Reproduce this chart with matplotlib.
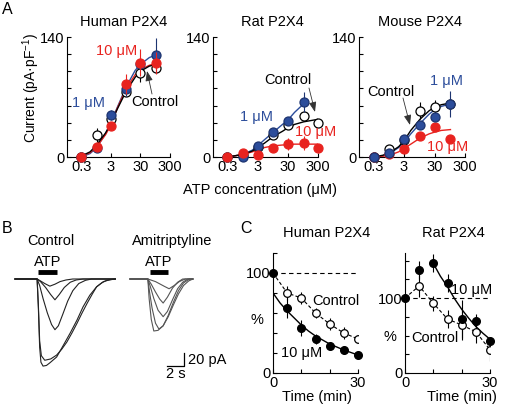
import numpy as np
import matplotlib
matplotlib.use("Agg")
import matplotlib.pyplot as plt

plt.rcParams["font.family"] = ["Liberation Sans", "DejaVu Sans"]
plt.rcParams["mathtext.fontset"] = "custom"
plt.rcParams["mathtext.rm"] = "Liberation Sans"
plt.rcParams["mathtext.it"] = "Liberation Sans:italic"
plt.rcParams["axes.linewidth"] = 0.8

BLUE = "#2c4d9b"
RED = "#e8231f"
FS = 10.5

# ---------------- data: panel A (ATP concentration-response) ----------------
conc = [0.3, 1, 3, 10, 30, 100]
conc_rat = [0.3, 1, 3, 10, 30, 100, 300]

human_ctrl = [0, 26, 44, 76, 98, 104]
human_ctrl_err = [0, 8, 0, 0, 10, 0]
human_1uM = [0, 10, 49, 79, 108, 119]
human_1uM_err = [0, 0, 6, 8, 0, 20]
human_10uM = [0, 12, 36, 85, 110, 110]
human_10uM_err = [0, 0, 0, 12, 16, 13]

rat_ctrl = [0, 2, 12, 26, 37, 48, 40]
rat_ctrl_err = [0, 0, 0, 0, 0, 0, 0]
rat_1uM = [0, 0.5, 13, 29, 42, 64]
rat_1uM_err = [0, 0, 0, 0, 5, 12]
rat_10uM = [0, 4.7, 2.5, 10.5, 15, 16, 10.5]
rat_10uM_err = [0, 0, 0, 0, 7, 8, 0]

mouse_ctrl = [0, 9, 20, 54, 58, 62]
mouse_ctrl_err = [0, 0, 0, 10, 8, 0]
mouse_1uM = [0, 5, 21, 37, 47, 62]
mouse_1uM_err = [0, 0, 0, 0, 0, 15]
mouse_10uM = [0, 3, 9, 24, 35, 21]
mouse_10uM_err = [0, 0, 0, 0, 0, 0]

# fitted curves
fit_x = [0.3, 0.6, 1, 2, 3, 5, 10, 20, 30, 60, 100]
human_fit_ctrl = [1, 6, 14, 28, 39, 56, 77, 93, 100, 106, 108]
human_fit_1uM = [0, 4, 11, 27, 40, 58, 82, 101, 108, 116, 119]
human_fit_10uM = [1, 5, 12, 26, 37, 57, 80, 96, 102, 107, 109]

rat_fit_x = [0.3, 1, 2, 3, 5, 10, 20, 30, 50, 100, 300]
rat_fit_ctrl = [0, 3, 7, 11, 16, 24, 30, 34, 38, 41, 44]
rat_fit_1uM = [0, 3, 8, 13, 20, 29, 38, 43, 52, 62, np.nan]
rat_fit_10uM = [0, 3, 6, 8, 11, 13, 14, 14, 15, 15, 15]

mouse_fit_x = [0.3, 0.6, 1, 2, 3, 5, 10, 20, 30, 50, 100]
mouse_fit_ctrl = [0, 2, 5, 12, 19, 31, 44, 54, 58, 61, 63]
mouse_fit_1uM = [0, 1, 4, 11, 17, 27, 39, 50, 55, 59, 62]
mouse_fit_10uM = [0, 1, 2, 6, 10, 15, 22, 27, 29, 31, 32]

# ---------------- data: panel B (current traces, s / pA) ----------------
ctrl_traces = [
    ([0, 2.6, 3.0, 3.5, 4.1, 4.7, 5.3, 6.0, 6.8, 11.8],
     [0, 0, -3, -7, -11, -8, -4, -1.5, 0, 0]),
    ([0, 2.6, 3.0, 3.6, 4.2, 4.7, 5.2, 5.8, 6.5, 7.2, 8.0, 11.8],
     [0, 0, -4, -13, -24, -32, -24, -13, -5, -1.5, 0, 0]),
    ([0, 2.6, 2.9, 3.3, 3.8, 4.3, 4.7, 5.1, 5.6, 6.2, 6.8, 7.5, 8.3, 9.0, 11.8],
     [0, 0, -10, -30, -52, -70, -78, -72, -55, -34, -18, -7, -2, 0, 0]),
    ([0, 2.6, 2.75, 2.9, 3.1, 3.5, 4.2, 4.9, 5.5, 6.1, 6.7, 7.3, 7.9, 8.5, 9.1, 9.6, 10.2, 10.8, 11.8],
     [0, 0, -40, -95, -118, -125, -123, -117, -108, -97, -83, -68, -52, -37, -23, -12, -6, -2, 0]),
    ([0, 2.6, 2.75, 2.9, 3.05, 3.3, 3.7, 4.1, 4.9, 5.6, 6.5, 7.3, 8.0, 8.8, 9.6, 10.4, 11.2, 11.8],
     [0, 0, -45, -105, -128, -134, -133, -129, -120, -104, -83, -63, -43, -25, -12, -4, -1, 0]),
]
amit_traces = [
    ([0, 2.1, 3.0, 4.0, 4.6, 5.2, 5.8, 6.5, 7.4],
     [0, 0, -4, -11, -15, -10, -4, 0, 0]),
    ([0, 2.1, 2.5, 3.0, 3.5, 3.9, 4.4, 5.0, 5.6, 6.2, 7.4],
     [0, 0, -8, -20, -31, -37, -28, -14, -5, 0, 0]),
    ([0, 2.1, 2.4, 2.8, 3.3, 3.9, 4.4, 5.0, 5.6, 6.2, 6.8, 7.4],
     [0, 0, -12, -30, -48, -58, -50, -32, -15, -5, 0, 0]),
    ([0, 2.1, 2.3, 2.6, 3.0, 3.4, 3.9, 4.5, 5.1, 5.7, 6.3, 7.0, 7.4],
     [0, 0, -20, -45, -68, -77, -72, -56, -36, -18, -6, 0, 0]),
    ([0, 2.1, 2.25, 2.5, 2.8, 3.3, 3.9, 4.5, 5.1, 5.7, 6.3, 6.9, 7.4],
     [0, 0, -30, -62, -80, -79, -72, -58, -40, -23, -10, -3, 0]),
]
ctrl_atp = (2.7, 4.9)
amit_atp = (2.35, 4.5)

# ---------------- data: panel C (time course, %) ----------------
t_min = [0, 5, 10, 15, 20, 25, 30]
hum_10 = [100, 65, 45, 34, 27, 23, 18]
hum_10_err = [0, 10, 8, 5, 4, 4, 3]
hum_ctrl = [100, 80, 75, 60, 49, 40, 34]
hum_ctrl_err = [0, 7, 6, 5, 6, 6, 5]
hum_fit_t = [0, 2.5, 5, 7.5, 10, 12.5, 15, 17.5, 20, 22.5, 25, 27.5, 30]
hum_fit = [80, 70, 62, 55, 48, 42, 37, 33, 29, 26, 23, 20.5, 18]

rat_10 = [100, 137, 147, 120, 72, 69, 43]
rat_10_err = [0, 12, 12, 12, 25, 10, 8]
rat_ctrl_c = [100, 116, 93, 72, 64, 55, 31]
rat_ctrl_c_err = [0, 15, 10, 12, 20, 15, 15]
rat_fit_t = [10, 12.5, 15, 17.5, 20, 22.5, 25, 27.5, 30]
rat_fit = [146, 129, 115, 99, 85, 73, 62, 53, 45]

# ---------------- figure ----------------
W, H = 505, 405
fig = plt.figure(figsize=(W / 100, H / 100), dpi=100)


def px_axes(l, t, r, b):
    return fig.add_axes([l / W, 1 - b / H, (r - l) / W, (b - t) / H])


def ftext(x, y, s, **kw):
    kw.setdefault("fontsize", FS)
    kw.setdefault("ha", "center")
    kw.setdefault("va", "center")
    fig.text(x / W, 1 - y / H, s, **kw)


def arrow(x0, y0, x1, y1, color="k"):
    fig.add_artist(plt.matplotlib.patches.FancyArrowPatch(
        (x0, H - y0), (x1, H - y1), transform=None,
        arrowstyle="-|>,head_length=6,head_width=2.2", color=color,
        lw=0.6, shrinkA=0, shrinkB=0))


def style_axes(ax):
    for s in ["top", "right"]:
        ax.spines[s].set_visible(False)
    ax.tick_params(direction="in", length=3, width=0.8, labelsize=FS, pad=2)
    ax.patch.set_alpha(0)


def conc_panel(ax, xs, series):
    ax.set_xscale("log")
    ax.set_xlim(0.1, 300)
    ax.set_ylim(0, 140)
    ax.xaxis.set_minor_locator(plt.NullLocator())
    ax.set_xticks([0.3, 3, 30, 300])
    ax.set_xticklabels(["0.3", "3", "30", "300"])
    ax.set_yticks(range(0, 141, 20))
    ax.set_yticklabels(["0", "", "", "", "", "", "", "140"])
    style_axes(ax)
    for fx, fy, col, lw in series["fits"]:
        ax.plot(fx, fy, color=col, lw=lw, zorder=2)
    for x, y, err, face, edge, z in series["points"]:
        ax.errorbar(x, y, yerr=err, fmt="none", ecolor=edge, elinewidth=0.8,
                    capsize=0, zorder=z, clip_on=False)
        ax.plot(x, y, "o", ms=6.5, mfc=face, mec=edge, mew=0.9, ls="none",
                zorder=z + 0.5, clip_on=False)


# Panel A
axh = px_axes(67, 37, 170, 157)
conc_panel(axh, conc, {
    "fits": [(fit_x, human_fit_1uM, BLUE, 1.0), (fit_x, human_fit_10uM, RED, 1.0),
             (fit_x, human_fit_ctrl, "k", 1.0)],
    "points": [(conc, human_ctrl, human_ctrl_err, "white", "k", 3),
               (conc, human_1uM, human_1uM_err, BLUE, "#1d3470", 4),
               (conc, human_10uM, human_10uM_err, RED, RED, 5)],
})
axr = px_axes(213, 37, 318, 157)
conc_panel(axr, conc_rat, {
    "fits": [(rat_fit_x, rat_fit_1uM, BLUE, 1.0), (rat_fit_x, rat_fit_10uM, RED, 1.0),
             (rat_fit_x, rat_fit_ctrl, "k", 1.0)],
    "points": [(conc_rat, rat_ctrl, rat_ctrl_err, "white", "k", 3),
               (conc, rat_1uM, rat_1uM_err, BLUE, "#1d3470", 4),
               (conc_rat, rat_10uM, rat_10uM_err, RED, RED, 5)],
})
axm = px_axes(359, 37, 465, 157)
conc_panel(axm, conc, {
    "fits": [(mouse_fit_x, mouse_fit_1uM, BLUE, 1.0), (mouse_fit_x, mouse_fit_10uM, RED, 1.0),
             (mouse_fit_x, mouse_fit_ctrl, "k", 1.0)],
    "points": [(conc, mouse_ctrl, mouse_ctrl_err, "white", "k", 3),
               (conc, mouse_10uM, mouse_10uM_err, RED, RED, 4),
               (conc, mouse_1uM, mouse_1uM_err, BLUE, "#1d3470", 5)],
})

ftext(7, 10, "A", fontsize=11.5)
ftext(124, 22, "Human P2X4")
ftext(272, 22, "Rat P2X4")
ftext(420, 22, "Mouse P2X4")
ftext(31, 88, "Current (pA\u00b7pF$^{-1}$)", rotation=90, fontsize=10)
ftext(260, 190, "ATP concentration (\u03bcM)")

ftext(117, 51, "10 \u03bcM", color=RED)
ftext(89, 103, "1 \u03bcM", color=BLUE)
ftext(155, 102, "Control")
arrow(152, 94, 147, 71, color="#333333")

ftext(288, 80, "Control")
arrow(309, 88, 315, 112, color="#333333")
ftext(257, 117, "1 \u03bcM", color=BLUE)
ftext(316, 132, "10 \u03bcM", color=RED)

ftext(391, 92, "Control")
arrow(403, 98, 410, 125, color="#333333")
ftext(447, 81, "1 \u03bcM", color=BLUE)
ftext(448, 147, "10 \u03bcM", color=RED)

# Panel B
def trace_axes(l, r, traces, atp, color):
    ax = px_axes(l, 255, r, 380)
    ax.set_xlim(-5 / 8.5, (r - l - 5) / 8.5)
    ax.set_ylim(-(380 - 279) / 0.65, (279 - 255) / 0.65)
    ax.axis("off")
    for t, i in traces:
        ax.plot(t, i, color=color, lw=0.8)
    ax.plot(atp, [10.8, 10.8], color="k", lw=3.5, solid_capstyle="butt")
    ax.text(sum(atp) / 2, 26, "ATP", ha="center", va="center", fontsize=FS)
    return ax

trace_axes(10, 122, ctrl_traces, ctrl_atp, "#222222")
axb2 = trace_axes(125, 237, amit_traces, amit_atp, "#555555")
# scale bar: 20 pA / 2 s
axb2.plot([4.35, 6.35, 6.35], [-134, -134, -114], color="k", lw=0.9)
axb2.text(6.8, -124, "20 pA", ha="left", va="center", fontsize=FS)
axb2.text(5.35, -146, "2 s", ha="center", va="center", fontsize=FS)

ftext(7, 228, "B", fontsize=11.5)
ftext(246, 228, "C", fontsize=11.5)
ftext(51, 241, "Control")
ftext(172, 241, "Amitriptyline")

# Panel C
def time_panel(ax, ymax, yticks, ylabels):
    ax.set_xlim(0, 30)
    ax.set_ylim(0, ymax)
    ax.set_xticks([0, 10, 20, 30])
    ax.set_xticklabels(["0", "", "", "30"])
    ax.set_yticks(yticks)
    ax.set_yticklabels(ylabels)
    style_axes(ax)
    ax.axhline(100, color="k", lw=0.8, dashes=(4, 3), zorder=1)

axc1 = px_axes(273, 253, 358, 373)
time_panel(axc1, 120, range(0, 121, 20), ["0", "", "", "", "", "100", ""])
axc1.plot(hum_fit_t, hum_fit, color="k", lw=1.0)
axc1.plot(t_min, hum_ctrl, color="k", lw=0.8, dashes=(3, 2))
axc1.errorbar(t_min, hum_ctrl, yerr=hum_ctrl_err, fmt="none", ecolor="k", elinewidth=0.8)
axc1.errorbar(t_min, hum_10, yerr=hum_10_err, fmt="none", ecolor="k", elinewidth=0.8)
axc1.plot(t_min[1:], hum_ctrl[1:], "o", ms=5.5, mfc="white", mec="k", mew=0.9, zorder=4)
axc1.plot(t_min, hum_10, "o", ms=5.5, color="k", zorder=5, clip_on=False)

axc2 = px_axes(405, 253, 490, 373)
time_panel(axc2, 160, range(0, 151, 25), ["0", "", "", "", "100", "", ""])
axc2.plot(rat_fit_t, rat_fit, color="k", lw=1.0)
axc2.plot(t_min, rat_ctrl_c, color="k", lw=0.8, dashes=(3, 2))
axc2.errorbar(t_min, rat_ctrl_c, yerr=rat_ctrl_c_err, fmt="none", ecolor="k", elinewidth=0.8)
axc2.errorbar(t_min, rat_10, yerr=rat_10_err, fmt="none", ecolor="k", elinewidth=0.8)
axc2.plot(t_min[1:], rat_ctrl_c[1:], "o", ms=5.5, mfc="white", mec="k", mew=0.9, zorder=4)
axc2.plot(t_min, rat_10, "o", ms=5.5, color="k", zorder=5, clip_on=False)

ftext(327, 233, "Human P2X4")
ftext(453, 233, "Rat P2X4")
ftext(257, 320, "%")
ftext(390, 337, "%")
ftext(317, 397, "Time (min)")
ftext(462, 397, "Time (min)")
ftext(336, 301, "Control")
ftext(302, 353, "10 \u03bcM")
ftext(472, 290, "10 \u03bcM")
ftext(435, 338, "Control")

fig.savefig("out.png", dpi=100)
